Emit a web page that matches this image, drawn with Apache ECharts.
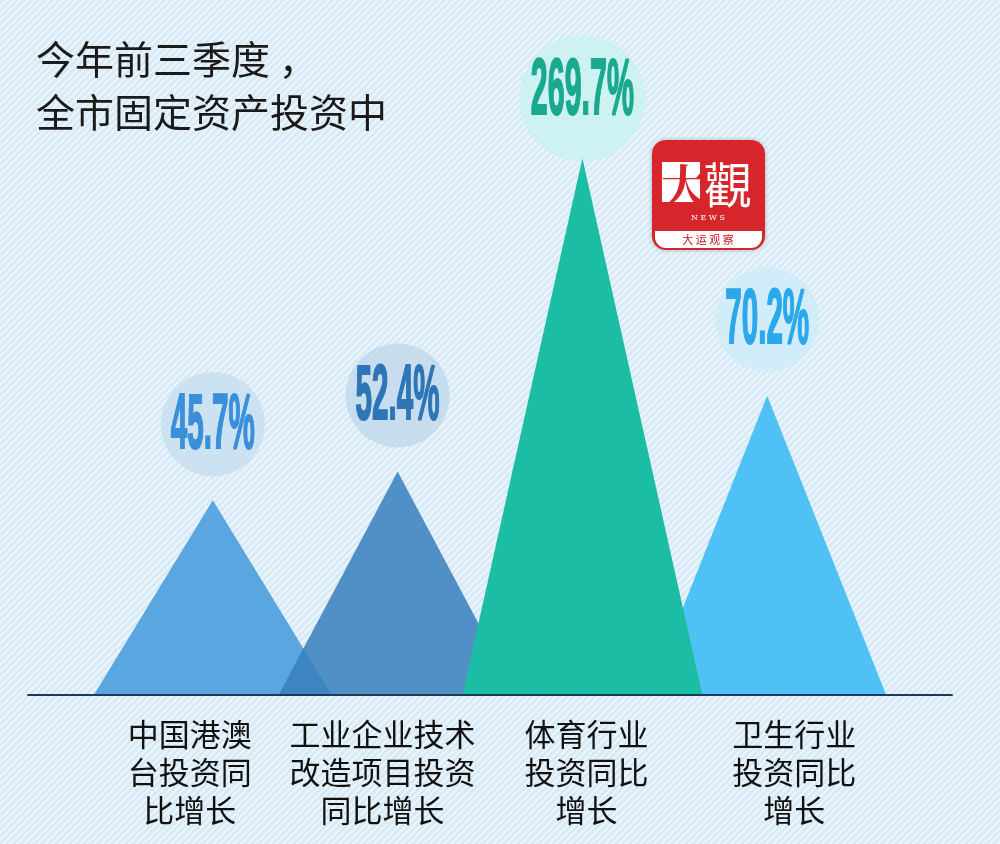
<!DOCTYPE html>
<html><head><meta charset="utf-8">
<style>html,body{margin:0;padding:0;background:#dcecf7;}#c{width:1000px;height:844px;}</style>
<script src="https://cdn.jsdelivr.net/npm/echarts@6/dist/echarts.min.js"></script>
</head><body><div id="c"></div>
<script>
// ---- data ----
const categories = ['中国港澳\n台投资同\n比增长', '工业企业技术\n改造项目投资\n同比增长', '体育行业\n投资同比\n增长', '卫生行业\n投资同比\n增长'];
const values = [45.7, 52.4, 269.7, 70.2];
const valueLabels = ['45.7%', '52.4%', '269.7%', '70.2%'];
const titleText = '今年前三季度 ，\n全市固定资产投资中';

// ---- styles ----
const triColors = ['#5aa6e0', 'rgba(56,128,189,0.86)', '#1bbda4', '#4fc1f5'];
const frontIndex = 2;
const textColors = ['#3a8fd8', '#2e75b6', '#1aa98f', '#2aa8ea'];
const circleColors = ['rgba(196,222,240,0.75)', 'rgba(190,215,235,0.75)', 'rgba(200,243,240,0.8)', 'rgba(205,235,250,0.8)'];
const circleR = [52, 52, 63, 52];
const circleUp = [74, 74, 66, 74];
const labelFont = [78, 78, 80, 78];
const labelPads = [[0, 46, 0, 0], [0, 30, 0, 0], [0, 0, 0, 8], [0, 0, 0, 54]];

// background pattern
const pc = document.createElement('canvas');
pc.width = 7; pc.height = 7;
const g = pc.getContext('2d');
g.fillStyle = '#d9eaf6'; g.fillRect(0, 0, 7, 7);
g.strokeStyle = 'rgba(240,248,253,0.9)'; g.lineWidth = 1.6;
g.beginPath();
g.moveTo(-1, 8); g.lineTo(8, -1);
g.moveTo(-4, 4); g.lineTo(4, -4);
g.moveTo(3, 11); g.lineTo(11, 3);
g.stroke();

const xData = [''].concat(categories.map((c, i) => ({ value: c, textStyle: { padding: labelPads[i] } }))).concat(['']);

function item(v, i) {
  return { value: v, itemStyle: { color: triColors[i] } };
}
const backData = ['-'].concat(values.map((v, i) => i === frontIndex ? '-' : item(v, i))).concat(['-']);
const frontData = ['-'].concat(values.map((v, i) => i === frontIndex ? item(v, i) : '-')).concat(['-']);

const chart = echarts.init(document.getElementById('c'));
const option = {
  backgroundColor: { image: pc, repeat: 'repeat' },
  animation: false,
  title: {
    text: titleText, left: 31, top: 28,
    textStyle: { fontSize: 39, lineHeight: 53, fontWeight: 'normal', color: '#1a1a1a', fontFamily: 'Noto Sans CJK SC' }
  },
  grid: { left: 28, right: 48, top: 29, bottom: 149, containLabel: false },
  xAxis: {
    type: 'category', data: xData, boundaryGap: false,
    axisLine: { show: true, lineStyle: { color: '#1e3a5a', width: 2 } },
    axisTick: { show: false },
    splitLine: { show: false },
    axisLabel: {
      interval: 0, margin: 20, color: '#111', fontSize: 31, lineHeight: 38,
      fontFamily: 'Noto Sans CJK SC', align: 'center'
    },
    z: 10
  },
  yAxis: {
    type: 'value', min: 0, max: 300, show: false,
    splitLine: { show: false },
    breaks: [{ start: 90, end: 233.8, gap: 0 }],
    breakArea: { show: false }
  },
  series: [
    { type: 'pictorialBar', symbol: 'triangle', symbolSize: [238, '100%'], data: backData, z: 2, silent: true },
    { type: 'pictorialBar', symbol: 'triangle', symbolSize: [240, '100%'], data: frontData, z: 3, silent: true }
  ]
};
chart.setOption(option);

// value labels placed through the chart's scales
const gfx = [];
values.forEach((v, i) => {
  const p = chart.convertToPixel({ xAxisIndex: 0, yAxisIndex: 0 }, [i + 1, v]);
  const cx = p[0], cy = p[1] - circleUp[i];
  gfx.push({ type: 'circle', shape: { cx: cx, cy: cy + (i === frontIndex ? 6 : -2), r: circleR[i] }, style: { fill: circleColors[i] }, z: 1 });
  gfx.push({
    type: 'text', x: cx, y: cy, scaleX: 0.38, z: 5,
    style: {
      text: valueLabels[i], x: 0, y: 0, textAlign: 'center', textVerticalAlign: 'middle',
      fontSize: labelFont[i], fontWeight: 'bold', fontFamily: 'Liberation Sans',
      fill: textColors[i], stroke: textColors[i], lineWidth: 2
    }
  });
});
// logo badge
gfx.push({ type: 'rect', shape: { x: 652, y: 140, width: 113, height: 110, r: 14 }, style: { fill: '#d7262b', shadowBlur: 4, shadowColor: 'rgba(0,0,0,0.25)' }, z: 6 });
gfx.push({ type: 'rect', shape: { x: 655, y: 231, width: 107, height: 17, r: [0, 0, 11, 11] }, style: { fill: '#ffffff' }, z: 7 });
gfx.push({ type: 'rect', shape: { x: 662, y: 162, width: 38, height: 40 }, style: { fill: '#ffffff' }, z: 7 });
gfx.push({ type: 'text', x: 684, y: 186, z: 8, style: { text: '大', textAlign: 'center', textVerticalAlign: 'middle', fontSize: 46, fontWeight: 'bold', fontFamily: 'Noto Serif CJK SC, Noto Sans CJK SC', fill: '#d7262b' } });
gfx.push({ type: 'text', x: 728, y: 185, z: 8, style: { text: '觀', textAlign: 'center', textVerticalAlign: 'middle', fontSize: 48, fontFamily: 'Noto Sans CJK TC', fill: '#ffffff' } });
gfx.push({ type: 'text', x: 708, y: 218, z: 8, style: { text: 'N E W S', textAlign: 'center', textVerticalAlign: 'middle', fontSize: 8, fontFamily: 'DejaVu Serif', fill: '#ffffff' } });
gfx.push({ type: 'text', x: 708, y: 240, z: 8, style: { text: '大 运 观 察', textAlign: 'center', textVerticalAlign: 'middle', fontSize: 11, fontFamily: 'Noto Sans CJK SC', fill: '#c8161d' } });
chart.setOption({ graphic: { elements: gfx } });
</script>
</body></html>
